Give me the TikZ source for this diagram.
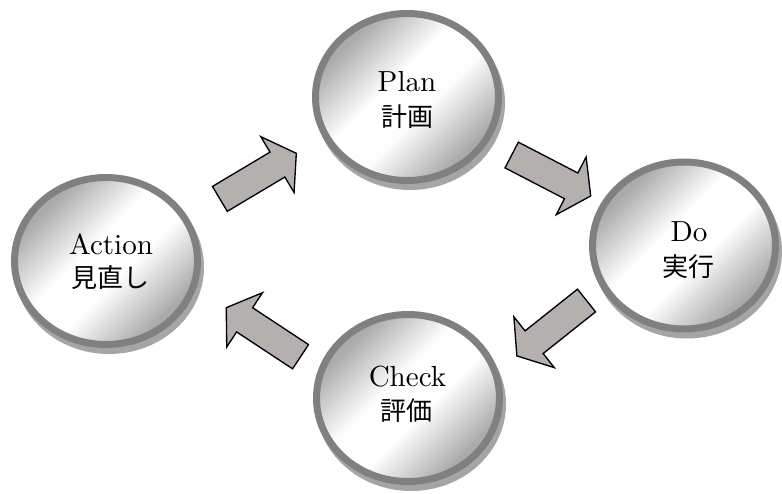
\documentclass[tikz,border=0pt]{standalone}
\usepackage{fontspec}
\newfontfamily\jpfont{Noto Sans CJK JP}
\usetikzlibrary{shapes.geometric,shadows,calc}
\definecolor{ringgray}{RGB}{128,128,128}
\definecolor{shadowgray}{RGB}{165,165,165}
\definecolor{shadeg}{RGB}{170,170,170}
\definecolor{arrowfill}{RGB}{180,176,176}
\pgfdeclareverticalshading{stageshade}{100bp}{color(0bp)=(shadeg); color(27bp)=(shadeg); color(44bp)=(white); color(56bp)=(white); color(73bp)=(shadeg); color(100bp)=(shadeg)}
\tikzset{
  stage/.style={ellipse, minimum width=137.25pt, minimum height=125.25pt,
    draw=ringgray, line width=5.25pt, inner sep=0pt,
    shading=stageshade, shading angle=45,
    drop shadow={shadow xshift=2.25pt, shadow yshift=-4.5pt, shadow scale=1,
      opacity=1, fill=shadowgray, draw=shadowgray, line width=5.25pt}},
  entext/.style={anchor=base, inner sep=0pt, font=\fontsize{10}{12}\selectfont,
    scale=2.18, transform shape},
  jatext/.style={anchor=center, inner sep=0pt, font=\fontsize{19.5}{23}\selectfont\jpfont},
  arrowbody/.style={fill=arrowfill, draw=black, line width=1pt, line join=miter},
  pics/blockarrow/.style={code={
    \draw[arrowbody] (-44.5,-14.5) -- (22.5,-14.5) -- (22.5,-32.5) -- (44.5,0)
      -- (22.5,32.5) -- (22.5,14.5) -- (-44.5,14.5) -- cycle;
  }}
}
\begin{document}
\begin{tikzpicture}[x=0.75pt,y=-0.75pt]
\useasboundingbox (0,0) rectangle (782,493);
\node[stage] (plan) at (407,97) {};
\node[stage] (do) at (684,245.5) {};
\node[stage] (check) at (408,398) {};
\node[stage] (action) at (106,261) {};

\node[entext] (plan-en) at ($(plan)+(0,-5.3)$) {Plan};
\node[jatext] (plan-ja) at ($(plan)+(0,20)$) {計画};
\node[entext] (do-en) at ($(do)+(5,-3.8)$) {Do};
\node[jatext] (do-ja) at ($(do)+(4,21.2)$) {実行};
\node[entext] (check-en) at ($(check)+(-0.5,-11.3)$) {Check};
\node[jatext] (check-ja) at ($(check)+(-1.3,12.7)$) {評価};
\node[entext] (action-en) at ($(action)+(5,-7)$) {Action};
\node[jatext] (action-ja) at ($(action)+(4,16.5)$) {見直し};

\pic[rotate=30.8] at ($(action)!0.5!(plan)+(1.6,-2.9)$) {blockarrow};
\pic[rotate=-27.4] at ($(plan)!0.5!(do)+(5.7,4.25)$) {blockarrow};
\pic[rotate=218.5] at ($(do)!0.5!(check)+(5.7,6.45)$) {blockarrow};
\pic[rotate=146.6] at ($(check)!0.5!(action)+(6.4,2.7)$) {blockarrow};
\end{tikzpicture}
\end{document}
